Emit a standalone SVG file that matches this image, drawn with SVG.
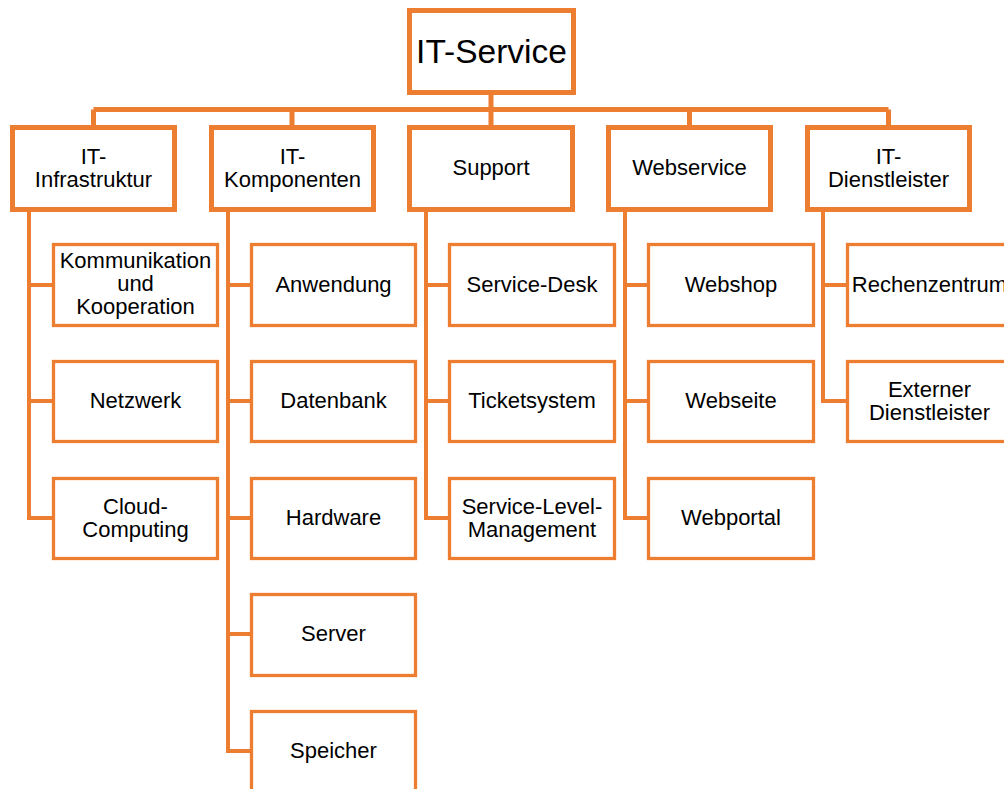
<svg xmlns="http://www.w3.org/2000/svg" width="1004" height="789" viewBox="0 0 1004 789">
<style>
.b0{fill:#fff;stroke:#ED7D31;stroke-width:5}
.b1{fill:#fff;stroke:#ED7D31;stroke-width:5}
.b2{fill:#fff;stroke:#ED7D31;stroke-width:3.3}
.c{fill:none;stroke:#ED7D31;stroke-width:4}
.bus{fill:none;stroke:#ED7D31;stroke-width:5}
text{font-family:"Liberation Sans",Arial,sans-serif;fill:#000;text-anchor:middle}
.t0{font-size:33.5px}
.t{font-size:22px}
</style>
<rect width="1004" height="789" fill="#fff"/>
<g id="connectors">
<path class="bus" d="M93.5 109.5H888.5M491 95V109.5M93.5 109.5V125M292 109.5V125M491 109.5V125M689.5 109.5V125M888.5 109.5V125"/>
<path class="c" d="M29 212V518M27 285H52M27 401H52M27 518H52"/>
<path class="c" d="M228 212V751M226 285H250M226 401H250M226 518H250M226 634H250M226 751H250"/>
<path class="c" d="M426 212V518M424 285H448M424 401H448M424 518H448"/>
<path class="c" d="M625 212V518M623 285H647M623 401H647M623 518H647"/>
<path class="c" d="M823 212V401M821 285H846M821 401H846"/>
</g>
<g id="root"><rect class="b0" x="409.5" y="10.5" width="164" height="82"/><text class="t0" x="491.5" y="63">IT-Service</text></g>
<g id="it-infrastruktur"><rect class="b1" x="12.5" y="127.5" width="162" height="82"/><text class="t" x="93.5" y="164">IT-</text><text class="t" x="93.5" y="187">Infrastruktur</text></g>
<g id="it-komponenten"><rect class="b1" x="211.5" y="127.5" width="162" height="82"/><text class="t" x="292.5" y="164">IT-</text><text class="t" x="292.5" y="187">Komponenten</text></g>
<g id="support"><rect class="b1" x="409.5" y="127.5" width="163" height="82"/><text class="t" x="491" y="175">Support</text></g>
<g id="webservice"><rect class="b1" x="608.5" y="127.5" width="162" height="82"/><text class="t" x="689.5" y="175">Webservice</text></g>
<g id="it-dienstleister"><rect class="b1" x="807.5" y="127.5" width="162" height="82"/><text class="t" x="888.5" y="164">IT-</text><text class="t" x="888.5" y="187">Dienstleister</text></g>
<g id="kommunikation"><rect class="b2" x="53.5" y="244.5" width="164" height="81"/><text class="t" x="135.5" y="268">Kommunikation</text><text class="t" x="135.5" y="291">und</text><text class="t" x="135.5" y="314">Kooperation</text></g>
<g id="netzwerk"><rect class="b2" x="53.5" y="361.5" width="164" height="80"/><text class="t" x="135.5" y="408">Netzwerk</text></g>
<g id="cloud"><rect class="b2" x="53.5" y="478.5" width="164" height="80"/><text class="t" x="135.5" y="513.5">Cloud-</text><text class="t" x="135.5" y="536.5">Computing</text></g>
<g id="anwendung"><rect class="b2" x="251.5" y="244.5" width="164" height="81"/><text class="t" x="333.5" y="292">Anwendung</text></g>
<g id="datenbank"><rect class="b2" x="251.5" y="361.5" width="164" height="80"/><text class="t" x="333.5" y="408">Datenbank</text></g>
<g id="hardware"><rect class="b2" x="251.5" y="478.5" width="164" height="80"/><text class="t" x="333.5" y="525">Hardware</text></g>
<g id="server"><rect class="b2" x="251.5" y="594.5" width="164" height="81"/><text class="t" x="333.5" y="641">Server</text></g>
<g id="speicher"><rect class="b2" x="251.5" y="711.5" width="164" height="81"/><text class="t" x="333.5" y="758">Speicher</text></g>
<g id="service-desk"><rect class="b2" x="449.5" y="244.5" width="165" height="81"/><text class="t" x="532" y="292">Service-Desk</text></g>
<g id="ticketsystem"><rect class="b2" x="449.5" y="361.5" width="165" height="80"/><text class="t" x="532" y="408">Ticketsystem</text></g>
<g id="slm"><rect class="b2" x="449.5" y="478.5" width="165" height="80"/><text class="t" x="532" y="513.5">Service-Level-</text><text class="t" x="532" y="536.5">Management</text></g>
<g id="webshop"><rect class="b2" x="648.5" y="244.5" width="165" height="81"/><text class="t" x="731" y="292">Webshop</text></g>
<g id="webseite"><rect class="b2" x="648.5" y="361.5" width="165" height="80"/><text class="t" x="731" y="408">Webseite</text></g>
<g id="webportal"><rect class="b2" x="648.5" y="478.5" width="165" height="80"/><text class="t" x="731" y="525">Webportal</text></g>
<g id="rechenzentrum"><rect class="b2" x="847.5" y="244.5" width="164" height="81"/><text class="t" x="929.5" y="292">Rechenzentrum</text></g>
<g id="externer"><rect class="b2" x="847.5" y="361.5" width="164" height="80"/><text class="t" x="929.5" y="396.5">Externer</text><text class="t" x="929.5" y="419.5">Dienstleister</text></g>
</svg>
